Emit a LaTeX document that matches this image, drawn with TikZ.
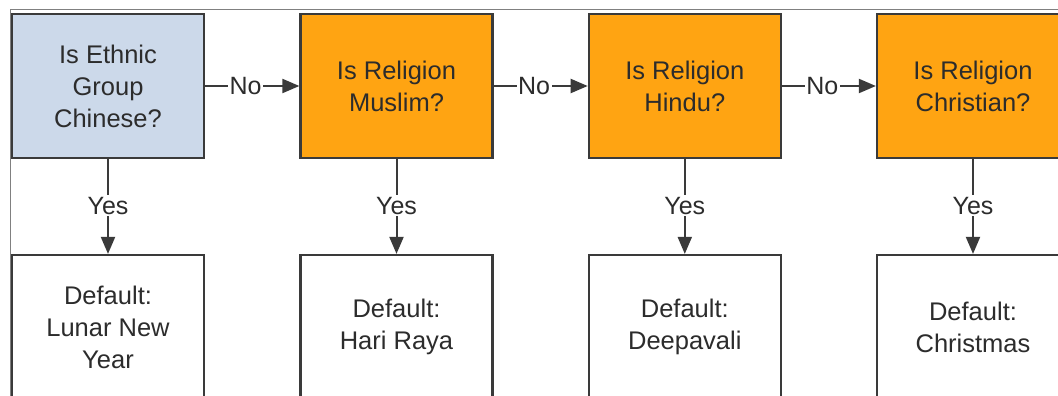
\documentclass[tikz,border=0pt]{standalone}
\usepackage{fontspec}
\setmainfont{Liberation Sans}
\usetikzlibrary{arrows.meta}
\definecolor{boxline}{HTML}{3A3A3A}
\definecolor{askblue}{HTML}{CCD9EA}
\definecolor{askorange}{HTML}{FFA412}
\definecolor{txt}{HTML}{2C2C2C}

\begin{document}
\begin{tikzpicture}[x=1pt,y=-1pt,
  box/.style={draw=boxline, line width=2.2pt, minimum width=192pt, minimum height=144pt,
    align=center, text=txt, font=\fontsize{25.5}{32}\selectfont},
  ask/.style={box, fill=askorange},
  result/.style={box, fill=white},
  flow/.style={draw=boxline, line width=2pt, -{Triangle[length=17pt,width=14pt]}},
  lbl/.style={fill=white, text=txt, inner sep=1.5pt, font=\fontsize{25}{28}\selectfont}]
\clip (0,0) rectangle (1058,396);

%Frame
\draw[gray, line width=1pt] (10,396) -- (10,10) -- (1058,10);

%Questions
\node[ask, fill=askblue] (ethnic) at (108,86) {Is Ethnic\\Group\\Chinese?};
\node[ask] (muslim) at (396.5,86) {Is Religion\\Muslim?};
\node[ask] (hindu) at (684.8,86) {Is Religion\\Hindu?};
\node[ask] (christian) at (973,86) {Is Religion\\Christian?};

%Defaults
\node[result] (newyear) at (108,327) {Default:\\Lunar New\\Year};
\node[result] (hariraya) at (396.5,327) {Default:\\Hari Raya};
\node[result] (deepavali) at (684.8,327) {Default:\\Deepavali};
\node[result] (christmas) at (973,327) {Default:\\Christmas};

%No arrows
\draw[flow] (ethnic) -- node[lbl, pos=0.43]{No} (muslim);
\draw[flow] (muslim) -- node[lbl, pos=0.43]{No} (hindu);
\draw[flow] (hindu) -- node[lbl, pos=0.43]{No} (christian);

%Yes arrows
\draw[flow] (ethnic) -- node[lbl, pos=0.49]{Yes} (newyear);
\draw[flow] (muslim) -- node[lbl, pos=0.49]{Yes} (hariraya);
\draw[flow] (hindu) -- node[lbl, pos=0.49]{Yes} (deepavali);
\draw[flow] (christian) -- node[lbl, pos=0.49]{Yes} (christmas);
\end{tikzpicture}
\end{document}
